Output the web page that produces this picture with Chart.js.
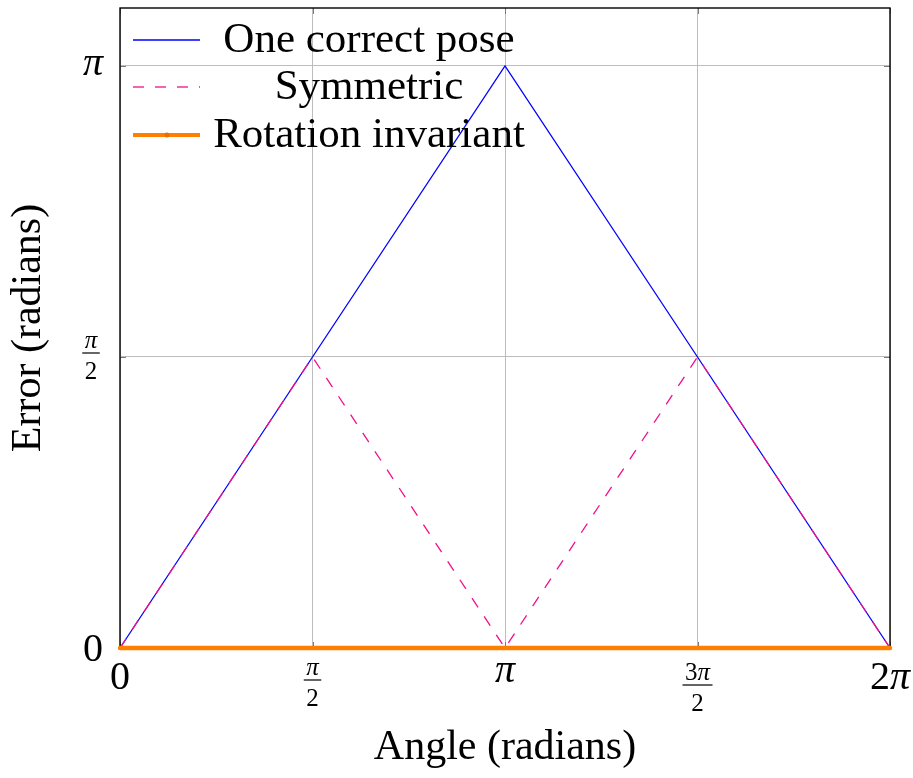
<!DOCTYPE html>
<html>
<head>
<meta charset="utf-8">
<script src="https://cdn.jsdelivr.net/npm/chart.js@4"></script>
<style>
  html, body { margin: 0; padding: 0; background: #fff; }
</style>
</head>
<body>
<canvas id="myChart" width="913" height="778"></canvas>
<script>
const PI = Math.PI;

// data
const angles = [0, PI / 2, PI, 3 * PI / 2, 2 * PI];
const onePose = [0, PI / 2, PI, PI / 2, 0];
const symmetric = [0, PI / 2, 0, PI / 2, 0];
const rotationInvariant = [0, 0, 0, 0, 0];
const seriesNames = ['One correct pose', 'Symmetric', 'Rotation invariant'];
const seriesColors = ['#0000ff', '#f0108c', '#ff7f00'];

const xTickValues = [0, PI / 2, PI, 3 * PI / 2, 2 * PI];
const xTickLabels = ['0', 'π/2', 'π', '3π/2', '2π'];
const yTickValues = [0, PI / 2, PI];
const yTickLabels = ['0', 'π/2', 'π'];

const serif = "'Liberation Serif', 'Times New Roman', serif";
const BIG = 40;
const SMALL = 25;

function pts(ys) {
    return angles.map((x, i) => ({ x: x, y: ys[i] }));
}

// math-ish text: pi in italic, digits upright
function fontFor(ch, size) {
    return (ch === 'π' ? 'italic ' : '') + size + 'px ' + serif;
}

function measureMath(ctx, s, size) {
    let w = 0, asc = 0, desc = 0;
    for (const ch of s) {
        ctx.font = fontFor(ch, size);
        const m = ctx.measureText(ch);
        w += m.width;
        asc = Math.max(asc, m.actualBoundingBoxAscent);
        desc = Math.max(desc, m.actualBoundingBoxDescent);
    }
    return { w, asc, desc };
}

function drawMath(ctx, s, size, x, baseline, align) {
    const m = measureMath(ctx, s, size);
    let cx = align === 'center' ? x - m.w / 2 : align === 'right' ? x - m.w : x;
    ctx.textAlign = 'left';
    ctx.textBaseline = 'alphabetic';
    for (const ch of s) {
        ctx.font = fontFor(ch, size);
        ctx.fillText(ch, cx, baseline);
        cx += ctx.measureText(ch).width;
    }
}

// draws a fraction "a/b" given the y of its bar
function drawFraction(ctx, num, den, cx, barY) {
    const n = measureMath(ctx, num, SMALL);
    const d = measureMath(ctx, den, SMALL);
    drawMath(ctx, num, SMALL, cx, barY - 5 - n.desc, 'center');
    drawMath(ctx, den, SMALL, cx, barY + 9 + d.asc, 'center');
    const bw = Math.max(n.w, d.w) + 5;
    ctx.fillRect(cx - bw / 2, barY - 0.6, bw, 1.2);
}

const framePlugin = {
    id: 'frame',
    beforeDatasetsDraw(chart) {
        const { ctx, chartArea: a, scales: { x, y } } = chart;
        ctx.save();
        ctx.strokeStyle = '#7a7a7a';
        ctx.lineWidth = 1;
        ctx.beginPath();
        xTickValues.forEach(v => {
            const px = Math.round(x.getPixelForValue(v)) + 0.5;
            ctx.moveTo(px, a.bottom); ctx.lineTo(px, a.bottom - 6);
            ctx.moveTo(px, a.top); ctx.lineTo(px, a.top + 6);
        });
        yTickValues.forEach(v => {
            const py = Math.round(y.getPixelForValue(v)) + 0.5;
            ctx.moveTo(a.left, py); ctx.lineTo(a.left + 6, py);
            ctx.moveTo(a.right, py); ctx.lineTo(a.right - 6, py);
        });
        ctx.stroke();
        ctx.strokeStyle = '#000';
        ctx.lineWidth = 1.4;
        ctx.strokeRect(a.left, a.top, a.right - a.left, a.bottom - a.top);
        ctx.restore();
    },
    afterDatasetsDraw(chart) {
        const { ctx, chartArea: a } = chart;
        ctx.save();
        const baselines = [44, 91, 139];
        seriesNames.forEach((name, i) => {
            const base = a.top + baselines[i];
            const ly = base - 12;
            ctx.beginPath();
            ctx.strokeStyle = seriesColors[i];
            ctx.lineWidth = i === 2 ? 4 : 1.3;
            ctx.setLineDash(i === 1 ? [11, 11] : []);
            ctx.moveTo(a.left + 13, ly);
            ctx.lineTo(a.left + 80, ly);
            ctx.stroke();
            ctx.setLineDash([]);
            if (i === 2) {
                ctx.fillStyle = '#e86f00';
                ctx.beginPath();
                ctx.arc(a.left + 47, ly, 2.5, 0, 2 * PI);
                ctx.fill();
            }
            ctx.fillStyle = '#000';
            ctx.font = '43px ' + serif;
            ctx.textAlign = 'center';
            ctx.textBaseline = 'alphabetic';
            ctx.fillText(name, a.left + 249, base);
        });
        ctx.restore();
    },
    afterDraw(chart) {
        const { ctx, chartArea: a, scales: { x, y } } = chart;
        ctx.save();
        ctx.fillStyle = '#000';
        // x tick labels
        xTickValues.forEach((v, i) => {
            const px = x.getPixelForValue(v);
            const lab = xTickLabels[i];
            const top = a.bottom + 15;
            if (lab.includes('/')) {
                const [num, den] = lab.split('/');
                const n = measureMath(ctx, num, SMALL);
                drawFraction(ctx, num, den, px, top + n.asc + n.desc + 5);
            } else {
                const m = measureMath(ctx, lab, BIG);
                drawMath(ctx, lab, BIG, px, top + m.asc, 'center');
            }
        });
        // y tick labels
        yTickValues.forEach((v, i) => {
            const py = y.getPixelForValue(v);
            const lab = yTickLabels[i];
            if (lab.includes('/')) {
                const [num, den] = lab.split('/');
                drawFraction(ctx, num, den, a.left - 29, py - 4);
            } else {
                const m = measureMath(ctx, lab, BIG);
                drawMath(ctx, lab, BIG, a.left - 17, py + (m.asc - m.desc) / 2, 'right');
            }
        });
        ctx.restore();
    }
};

const ctx = document.getElementById('myChart').getContext('2d');
const myChart = new Chart(ctx, {
    type: 'line',
    data: {
        datasets: [
            {
                label: seriesNames[0],
                data: pts(onePose),
                borderColor: seriesColors[0],
                borderWidth: 1.3,
                pointRadius: 0,
                clip: false,
                order: 2
            },
            {
                label: seriesNames[1],
                data: pts(symmetric),
                borderColor: seriesColors[1],
                borderWidth: 1.3,
                borderDash: [11, 11],
                pointRadius: 0,
                clip: false,
                order: 1
            },
            {
                label: seriesNames[2],
                data: pts(rotationInvariant),
                borderColor: seriesColors[2],
                borderWidth: 4.5,
                borderCapStyle: 'round',
                pointRadius: 0,
                clip: false,
                order: 0
            }
        ]
    },
    options: {
        responsive: false,
        animation: false,
        devicePixelRatio: 1,
        layout: { padding: { top: 8, right: 23, left: 0, bottom: 0 } },
        elements: { line: { tension: 0 } },
        plugins: {
            legend: { display: false },
            tooltip: { enabled: false }
        },
        scales: {
            x: {
                type: 'linear',
                min: 0,
                max: 2 * PI,
                afterBuildTicks: s => { s.ticks = xTickValues.map(v => ({ value: v })); },
                afterFit: s => { s.height = 130; },
                ticks: { display: false },
                grid: { color: '#bdbdbd', drawTicks: false },
                border: { display: false },
                title: {
                    display: true,
                    text: 'Angle (radians)',
                    color: '#000',
                    font: { family: serif, size: 42 },
                    padding: { top: 0, bottom: 5 }
                }
            },
            y: {
                type: 'linear',
                min: 0,
                max: 3.4546,
                afterBuildTicks: s => { s.ticks = yTickValues.map(v => ({ value: v })); },
                afterFit: s => { s.width = 120; },
                ticks: { display: false },
                grid: { color: '#bdbdbd', drawTicks: false },
                border: { display: false },
                title: {
                    display: true,
                    text: 'Error (radians)',
                    color: '#000',
                    font: { family: serif, size: 42 },
                    padding: { top: 4, bottom: 0 }
                }
            }
        }
    },
    plugins: [framePlugin]
});
</script>
</body>
</html>
